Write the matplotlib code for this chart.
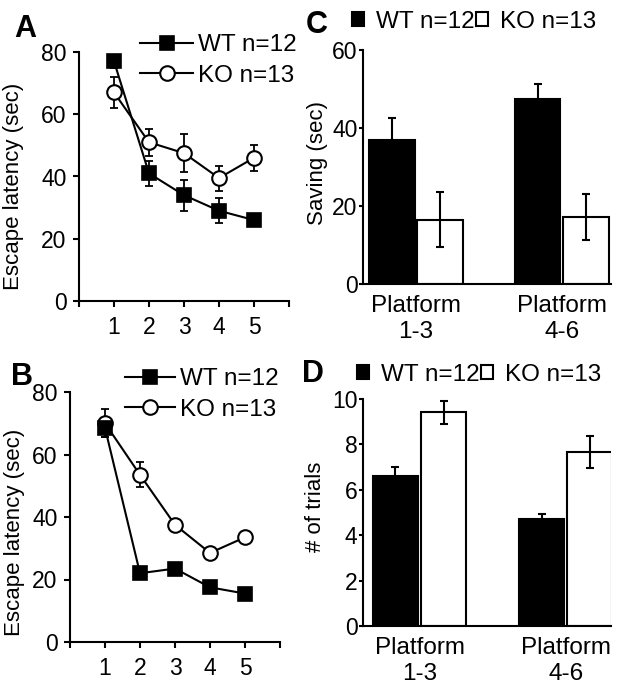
import matplotlib
matplotlib.use('Agg')
import matplotlib.pyplot as plt
import numpy as np

plt.rcParams['font.family'] = ['Liberation Sans', 'DejaVu Sans']

# panel A / B: escape latency per day
days = [1, 2, 3, 4, 5]
a_wt = [77, 41, 34, 29, 26]
a_wt_err = [2, 4, 5, 4, 1.5]
a_ko = [67, 51, 47.5, 39.5, 46]
a_ko_err = [5, 4.3, 6, 4, 4.2]

b_wt = [68.5, 22, 23.5, 17.5, 15.5]
b_wt_err = [3, 1, 1.5, 1.5, 1]
b_ko = [70, 53.5, 37.5, 28.5, 33.5]
b_ko_err = [4.5, 4, 1.5, 1.5, 1.5]

# panel C / D: bars per platform group
groups = ['Platform\n1-3', 'Platform\n4-6']
c_wt = [36.8, 47.5]
c_wt_err = [5.8, 3.7]
c_ko = [16.5, 17.2]
c_ko_err = [7, 6]

d_wt = [6.62, 4.72]
d_wt_err = [0.38, 0.2]
d_ko = [9.42, 7.67]
d_ko_err = [0.5, 0.7]

wt_label = 'WT n=12'
ko_label = 'KO n=13'

W, H = 624, 694
fig = plt.figure(figsize=(W / 100, H / 100), dpi=100)


def rect(l, t, r, b):
    return [l / W, 1 - b / H, (r - l) / W, (b - t) / H]


def style(ax, tlen=4, tpad=4):
    for s in ['top', 'right']:
        ax.spines[s].set_visible(False)
    for s in ['left', 'bottom']:
        ax.spines[s].set_linewidth(1.5)
    ax.tick_params(axis='y', direction='out', length=tlen, width=1.5,
                   labelsize=16.5, pad=tpad)


def line_panel(ax, wt, wt_err, ko, ko_err, legend_xy, hlen):
    ax.errorbar(days, ko, yerr=ko_err, fmt='none', ecolor='black',
                elinewidth=1.3, capsize=3, capthick=1.3, zorder=1)
    ax.errorbar(days, wt, yerr=wt_err, fmt='none', ecolor='black',
                elinewidth=1.3, capsize=3, capthick=1.3, zorder=1)
    ax.plot(days, ko, '-o', color='black', lw=1.5, ms=10.5,
            mfc='white', mec='black', mew=1.5, label=ko_label, zorder=3)
    ax.plot(days, wt, '-s', color='black', lw=1.5, ms=10.5,
            mfc='black', mec='black', mew=1.2, label=wt_label, zorder=4)
    ax.set_xlim(0, 6)
    ax.set_ylim(0, 80)
    ax.set_yticks([0, 20, 40, 60, 80])
    ax.set_xticks(range(7))
    ax.set_xticklabels([''] + [str(d) for d in days] + [''])
    style(ax, tlen=4, tpad=5)
    ax.tick_params(axis='x', direction='out', length=4, width=1.5,
                   labelsize=16.5, pad=7)
    h, l = ax.get_legend_handles_labels()
    ax.legend(h[::-1], l[::-1], loc='upper left',
              bbox_to_anchor=legend_xy, bbox_transform=fig.transFigure,
              frameon=False, fontsize=17.5, borderpad=0, borderaxespad=0,
              handlelength=hlen, handletextpad=0.2, labelspacing=0.35)


def bar_panel(ax, wt, wt_err, ko, ko_err, ylim, yticks, xlim, legend_xy):
    x = np.arange(len(groups))
    ax.bar(x - 0.165, wt, width=0.31, color='black', edgecolor='black',
           lw=1.5, label=wt_label, zorder=2)
    ax.bar(x + 0.165, ko, width=0.31, color='white', edgecolor='black',
           lw=1.5, label=ko_label, zorder=2)
    ax.errorbar(x - 0.165, wt, yerr=wt_err, fmt='none', ecolor='black',
                elinewidth=1.5, capsize=3, capthick=1.5, zorder=3)
    ax.errorbar(x + 0.165, ko, yerr=ko_err, fmt='none', ecolor='black',
                elinewidth=1.5, capsize=3, capthick=1.5, zorder=3)
    ax.set_ylim(*ylim)
    ax.set_yticks(yticks)
    ax.set_xlim(*xlim)
    ax.set_xticks(x)
    ax.set_xticklabels(groups)
    style(ax, tlen=3, tpad=1)
    ax.tick_params(axis='x', length=0, labelsize=17.5, pad=8)
    ax.legend(loc='upper left', bbox_to_anchor=legend_xy,
              bbox_transform=fig.transFigure, ncol=2, frameon=False,
              fontsize=17.5, borderpad=0, borderaxespad=0,
              handlelength=0.5, handleheight=0.5, handletextpad=0.5,
              columnspacing=0.05)


axA = fig.add_axes(rect(79, 52, 289, 301))
line_panel(axA, a_wt, a_wt_err, a_ko, a_ko_err, (140 / W, 1 - 34 / H), 2.2)
axA.set_ylabel('Escape latency (sec)', fontsize=16)
axA.yaxis.set_label_coords(-0.26, 0.46)

axB = fig.add_axes(rect(70, 392, 280, 642))
line_panel(axB, b_wt, b_wt_err, b_ko, b_ko_err, (125 / W, 1 - 368 / H), 2.05)
axB.set_ylabel('Escape latency (sec)', fontsize=16)
axB.yaxis.set_label_coords(-0.215, 0.44)

axC = fig.add_axes(rect(363, 50, 611, 284))
bar_panel(axC, c_wt, c_wt_err, c_ko, c_ko_err, (0, 60), [0, 20, 40, 60],
          (-0.363, 1.336), (352 / W, 1 - 11 / H))
axC.set_ylabel('Saving (sec)', fontsize=16)
axC.yaxis.set_label_coords(-0.14, 0.517)

axD = fig.add_axes(rect(363, 399, 611, 626))
bar_panel(axD, d_wt, d_wt_err, d_ko, d_ko_err, (0, 10), [0, 2, 4, 6, 8, 10],
          (-0.387, 1.31), (357 / W, 1 - 364 / H))
axD.set_ylabel('# of trials', fontsize=16)
axD.yaxis.set_label_coords(-0.15, 0.524)

# panel letters
for letter, px, py in [('A', 14, 37), ('B', 11, 385), ('C', 306, 33), ('D', 302, 382)]:
    fig.text(px / W, 1 - py / H, letter, fontsize=22, fontweight='bold',
             ha='left', va='baseline')

fig.savefig('out.png', dpi=100)
